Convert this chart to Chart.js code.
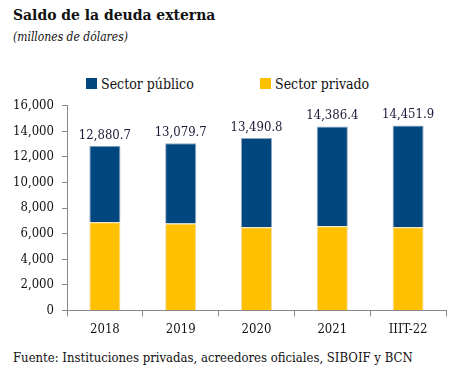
<!DOCTYPE html>
<html>
<head>
<meta charset="utf-8">
<script src="https://cdn.jsdelivr.net/npm/chart.js@4"></script>
<style>
  body { margin: 0; width: 459px; height: 380px; background: #fff; position: relative; overflow: hidden; }
  .txt { font-family: 'DejaVu Serif Condensed', 'DejaVu Serif'; color: #111; position: absolute; white-space: nowrap; }
  .titulo { left: 13px; top: 5px; font-size: 15.5px; font-weight: bold; }
  .subtitulo { left: 13px; top: 30px; font-size: 12px; font-style: italic; }
  .leyenda { top: 76px; font-size: 14px; }
  .leyenda span.caja { display: inline-block; width: 11px; height: 11px; margin-right: 4px; vertical-align: 0px; }
  .fuente { left: 13px; top: 350px; font-size: 13px; }
  #contenedor { position: absolute; left: 0; top: 90px; width: 459px; height: 252px; }
</style>
</head>
<body>
<div class="txt titulo">Saldo de la deuda externa</div>
<div class="txt subtitulo">(millones de dólares)</div>
<div class="txt leyenda" style="left:86px"><span class="caja" style="background:#00467f"></span>Sector público</div>
<div class="txt leyenda" style="left:260px"><span class="caja" style="background:#ffc000"></span>Sector privado</div>
<div id="contenedor"><canvas id="grafico" width="459" height="252"></canvas></div>
<div class="txt fuente">Fuente: Instituciones privadas, acreedores oficiales, SIBOIF y BCN</div>
<script>
const categorias = ["2018", "2019", "2020", "2021", "IIIT-22"];
const totales = [12880.7, 13079.7, 13490.8, 14386.4, 14451.9];
const privado = [6890, 6790, 6510, 6585, 6510];
const publico = totales.map((t, i) => Math.round((t - privado[i]) * 10) / 10);
const etiquetasTotal = ["12,880.7", "13,079.7", "13,490.8", "14,386.4", "14,451.9"];

const fuente = "'DejaVu Serif Condensed', 'DejaVu Serif'";

const etiquetasPlugin = {
  id: "etiquetasTotal",
  afterDatasetsDraw(chart) {
    const ctx = chart.ctx;
    const x = chart.scales.x;
    const y = chart.scales.y;
    ctx.save();
    ctx.font = "13px " + fuente;
    ctx.fillStyle = "#1a1a3a";
    ctx.textAlign = "center";
    ctx.textBaseline = "bottom";
    totales.forEach((t, i) => {
      ctx.fillText(etiquetasTotal[i], x.getPixelForValue(i), y.getPixelForValue(t) - 4);
    });
    ctx.restore();
  }
};

new Chart(document.getElementById("grafico"), {
  type: "bar",
  data: {
    labels: categorias,
    datasets: [
      {
        label: "Sector privado",
        data: privado,
        backgroundColor: "#ffc000",
        borderColor: "#f3dca0",
        borderWidth: 1,
        barPercentage: 0.82,
        categoryPercentage: 0.5
      },
      {
        label: "Sector público",
        data: publico,
        backgroundColor: "#00467f",
        borderColor: "#8fa6bf",
        borderWidth: 1,
        barPercentage: 0.82,
        categoryPercentage: 0.5
      }
    ]
  },
  options: {
    responsive: false,
    animation: false,
    layout: { padding: { left: 8, right: 13, top: 11, bottom: 0 } },
    plugins: {
      legend: { display: false },
      tooltip: { enabled: false }
    },
    scales: {
      x: {
        stacked: true,
        grid: { drawOnChartArea: false, tickLength: 6, color: "#888" },
        border: { color: "#888" },
        ticks: { color: "#111", font: { family: fuente, size: 13 }, padding: 5, maxRotation: 0 }
      },
      y: {
        stacked: true,
        min: 0,
        max: 16000,
        afterFit: (s) => { s.width = 59; },
        grid: { drawOnChartArea: false, tickLength: 5, color: "#888" },
        border: { color: "#888" },
        ticks: {
          stepSize: 2000,
          autoSkip: false,
          color: "#111",
          padding: 8,
          font: { family: fuente, size: 13 },
          callback: (v) => v.toLocaleString("en-US")
        }
      }
    }
  },
  plugins: [etiquetasPlugin]
});
</script>
</body>
</html>
